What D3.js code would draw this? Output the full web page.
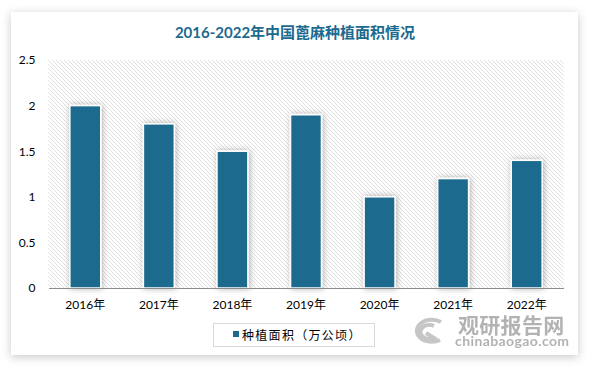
<!DOCTYPE html>
<html>
<head>
<meta charset="utf-8">
<script src="https://cdn.jsdelivr.net/npm/d3@7"></script>
<style>
  body { margin: 0; background: #fff; }
  svg text { font-family: Lato, "Noto Sans CJK SC", sans-serif; }
</style>
</head>
<body>
<div id="chart"></div>
<script>
// chart values
var years = ["2016年", "2017年", "2018年", "2019年", "2020年", "2021年", "2022年"];
var area = [2, 1.8, 1.5, 1.9, 1, 1.2, 1.4];
var yTicks = [0, 0.5, 1, 1.5, 2, 2.5];
var title = "2016-2022年中国蓖麻种植面积情况";
var seriesName = "种植面积（万公顷）";

var W = 591, H = 368;
var blue = "#1c6a8e";

var svg = d3.select("#chart").append("svg")
    .attr("width", W).attr("height", H);

var defs = svg.append("defs");
var cardShadow = defs.append("filter").attr("id", "cardShadow")
    .attr("x", "-10%").attr("y", "-10%").attr("width", "120%").attr("height", "125%");
cardShadow.append("feDropShadow").attr("dx", 0).attr("dy", 2)
    .attr("stdDeviation", 5).attr("flood-color", "#000").attr("flood-opacity", 0.22);

var barShadow = defs.append("filter").attr("id", "barShadow")
    .attr("x", "-50%").attr("y", "-10%").attr("width", "200%").attr("height", "120%");
barShadow.append("feDropShadow").attr("dx", 1).attr("dy", 0)
    .attr("stdDeviation", 3).attr("flood-color", "#000").attr("flood-opacity", 0.3);

var hatch = defs.append("pattern").attr("id", "hatch")
    .attr("patternUnits", "userSpaceOnUse").attr("width", 4).attr("height", 4);
hatch.append("path").attr("d", "M-1,-1 L5,5 M-1,3 L1,5 M3,-1 L5,1")
    .attr("stroke", "#dcdcdc").attr("stroke-width", 0.9);

// card
svg.append("rect")
    .attr("x", 11).attr("y", 12).attr("width", 567).attr("height", 343)
    .attr("fill", "#fff").attr("filter", "url(#cardShadow)");

svg.append("text")
    .attr("x", 295).attr("y", 38)
    .attr("text-anchor", "middle")
    .style("font-size", "15px").style("font-weight", "bold")
    .attr("fill", blue)
    .text(title);

var plotL = 48.5, plotR = 563.5, plotT = 60, plotB = 288;

var x = d3.scaleBand().domain(years).range([plotL, plotR]).paddingInner(0.58).paddingOuter(0.29);
var y = d3.scaleLinear().domain([0, 2.5]).range([plotB, plotT]);

svg.append("rect")
    .attr("x", plotL).attr("y", plotT)
    .attr("width", plotR - plotL).attr("height", plotB - plotT)
    .attr("fill", "url(#hatch)");

svg.append("g").selectAll("rect")
    .data(area)
    .join("rect")
    .attr("x", (d, i) => x(years[i]))
    .attr("y", d => y(d))
    .attr("width", x.bandwidth())
    .attr("height", d => plotB - y(d))
    .attr("fill", blue)
    .attr("stroke", "#fff")
    .attr("stroke-width", 1.5)
    .attr("filter", "url(#barShadow)");

// axes
var yAxis = svg.append("g")
    .attr("transform", "translate(" + plotL + ",0)")
    .call(d3.axisLeft(y).tickValues(yTicks).tickSize(0).tickPadding(13).tickFormat(d3.format("")));
yAxis.select(".domain").remove();
yAxis.selectAll("text").style("font-size", "12px").attr("fill", "#000");

var xAxis = svg.append("g")
    .attr("transform", "translate(0," + plotB + ")")
    .call(d3.axisBottom(x).tickSize(0).tickPadding(12));
xAxis.select(".domain").attr("stroke", "#8c8c8c").attr("stroke-width", 1.2);
xAxis.selectAll("text").style("font-size", "12px").attr("fill", "#000");

// legend
var lg = svg.append("g");
lg.append("rect").attr("x", 213.5).attr("y", 323.5).attr("width", 161).attr("height", 23)
    .attr("fill", "#fff").attr("stroke", "#d9d9d9");
lg.append("rect").attr("x", 233).attr("y", 331).attr("width", 6).attr("height", 6).attr("fill", blue);
lg.append("text").attr("x", 242).attr("y", 339.5)
    .style("font-size", "12px").style("letter-spacing", "1.3px")
    .attr("fill", "#000").text(seriesName);

// watermark
var wm = svg.append("g").attr("opacity", 0.8);
wm.append("path")
    .attr("d", "M441,322 A15,11 0 1 0 440,340 M434,326 A9,7 0 1 0 434,338 L426,333")
    .attr("fill", "none").attr("stroke", "#b8b8b8").attr("stroke-width", 4);
wm.append("text").attr("x", 458).attr("y", 333)
    .style("font-size", "21px").style("font-weight", "bold").style("letter-spacing", "0.3px")
    .attr("fill", "#a0a0a0").text("观研报告网");
wm.append("text").attr("x", 455).attr("y", 346)
    .style("font-size", "14px").style("font-weight", "bold").style("letter-spacing", "0.4px")
    .attr("fill", "#a0a0a0").text("chinabaogao.com");
</script>
</body>
</html>
